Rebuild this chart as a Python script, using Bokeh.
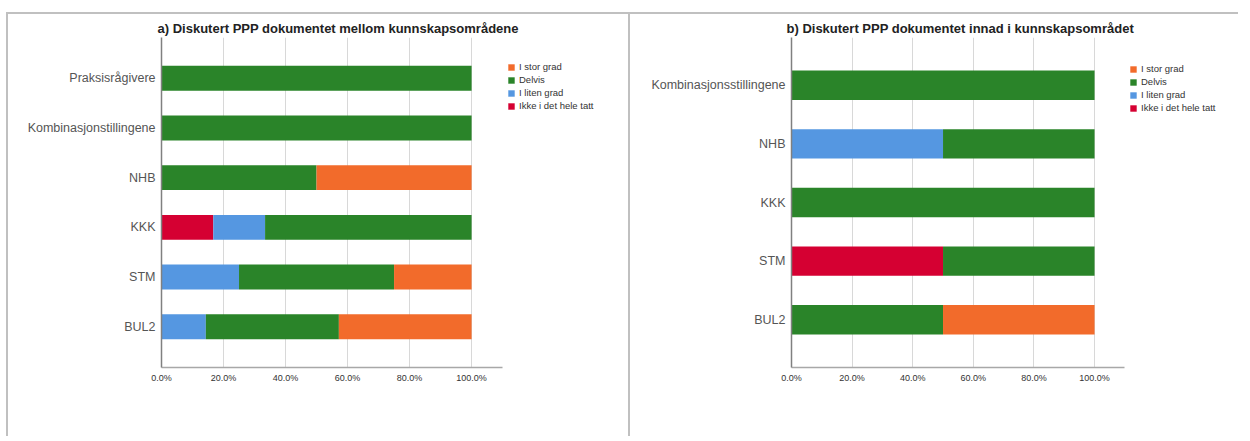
from bokeh.plotting import figure
from bokeh.models import (ColumnDataSource, FactorRange, Range1d, FixedTicker,
                          PrintfTickFormatter, Legend, LegendItem, Spacer)
from bokeh.layouts import row, column
from bokeh.embed import file_html
from bokeh.resources import INLINE

# ---- data ----
series_keys = ["ikke", "liten", "delvis", "stor"]
series_labels = ["Ikke i det hele tatt", "I liten grad", "Delvis", "I stor grad"]
series_colors = ["#D50032", "#5597E1", "#2A8429", "#F26B2B"]

a_title = "a) Diskutert PPP dokumentet mellom kunnskapsområdene"
a_categories = ["Praksisrågivere", "Kombinasjonstillingene", "NHB", "KKK", "STM", "BUL2"]
a_ikke = [0, 0, 0, 16.7, 0, 0]
a_liten = [0, 0, 0, 16.7, 25, 14.3]
a_delvis = [100, 100, 50, 66.6, 50, 42.9]
a_stor = [0, 0, 50, 0, 25, 42.8]

b_title = "b) Diskutert PPP dokumentet innad i kunnskapsområdet"
b_categories = ["Kombinasjonsstillingene", "NHB", "KKK", "STM", "BUL2"]
b_ikke = [0, 0, 0, 50, 0]
b_liten = [0, 50, 0, 0, 0]
b_delvis = [100, 50, 100, 50, 50]
b_stor = [0, 0, 0, 0, 50]

x_ticks = [0, 20, 40, 60, 80, 100]

FONT = "Liberation Sans"


def make_panel(title, cats, ikke, liten, delvis, stor, width, height,
               mb_left, mb_bottom, x_end, pad, legend_xy, title_offset, border_css):
    src = ColumnDataSource(dict(cat=cats, ikke=ikke, liten=liten, delvis=delvis, stor=stor))
    p = figure(width=width, height=height, output_backend="svg", toolbar_location=None,
               y_range=FactorRange(factors=list(reversed(cats)), range_padding=pad,
                                   range_padding_units="absolute"),
               x_range=Range1d(0, x_end),
               min_border_left=mb_left, min_border_right=2,
               min_border_top=23, min_border_bottom=mb_bottom,
               styles=border_css)
    p.outline_line_color = None
    p.background_fill_color = "white"
    p.border_fill_color = "white"
    rs = p.hbar_stack(series_keys, y="cat", height=0.5, color=series_colors,
                      line_color=None, source=src)

    p.title.text = title
    p.title.text_font = FONT
    p.title.text_font_size = "13px"
    p.title.text_font_style = "bold"
    p.title.text_color = "#222222"
    p.title.align = "left"
    p.title.offset = title_offset
    p.title.standoff = 4

    xa = p.xaxis[0]
    xa.ticker = FixedTicker(ticks=x_ticks)
    xa.formatter = PrintfTickFormatter(format="%.1f%%")
    xa.bounds = (0, 110)
    xa.major_tick_in = 0
    xa.major_tick_out = 0
    xa.minor_tick_in = 0
    xa.minor_tick_out = 0
    xa.axis_line_color = "#a8a8a8"
    xa.axis_line_width = 1.5
    xa.major_label_text_font = FONT
    xa.major_label_text_font_size = "9px"
    xa.major_label_text_color = "#333333"
    xa.major_label_standoff = 5

    ya = p.yaxis[0]
    ya.major_tick_in = 0
    ya.major_tick_out = 0
    ya.minor_tick_in = 0
    ya.minor_tick_out = 0
    ya.axis_line_color = "#808080"
    ya.axis_line_width = 1.5
    ya.major_label_text_font = FONT
    ya.major_label_text_font_size = "12.5px"
    ya.major_label_text_color = "#555555"
    ya.major_label_standoff = 6

    p.xgrid.grid_line_color = "#d8d8d8"
    p.ygrid.grid_line_color = None

    items = [LegendItem(label=series_labels[i], renderers=[rs[i]]) for i in [3, 2, 1, 0]]
    leg = Legend(items=items, location=legend_xy, orientation="vertical",
                 padding=0, margin=0, spacing=0, glyph_width=8, glyph_height=8,
                 label_height=13, label_standoff=4, label_text_font=FONT,
                 label_text_font_size="9.5px", label_text_color="#333333",
                 border_line_color=None, background_fill_alpha=0)
    p.add_layout(leg, "center")
    return p


border_css = {"border-top": "2px solid #c0c0c0", "border-left": "2px solid #c0c0c0"}

p1 = make_panel(a_title, a_categories, a_ikke, a_liten, a_delvis, a_stor,
                622, 424, 153, 69, 150.6, 0.32, (346, 255), -4, border_css)
p2 = make_panel(b_title, b_categories, b_ikke, b_liten, b_delvis, b_stor,
                610, 424, 161, 71, 147.5, 0.315, (338, 253), -5, border_css)

layout = column(Spacer(height=12, width=10),
                row(Spacer(width=6, height=10), p1, p2, spacing=0),
                spacing=0)
open("out.html", "w").write(file_html(layout, INLINE))
